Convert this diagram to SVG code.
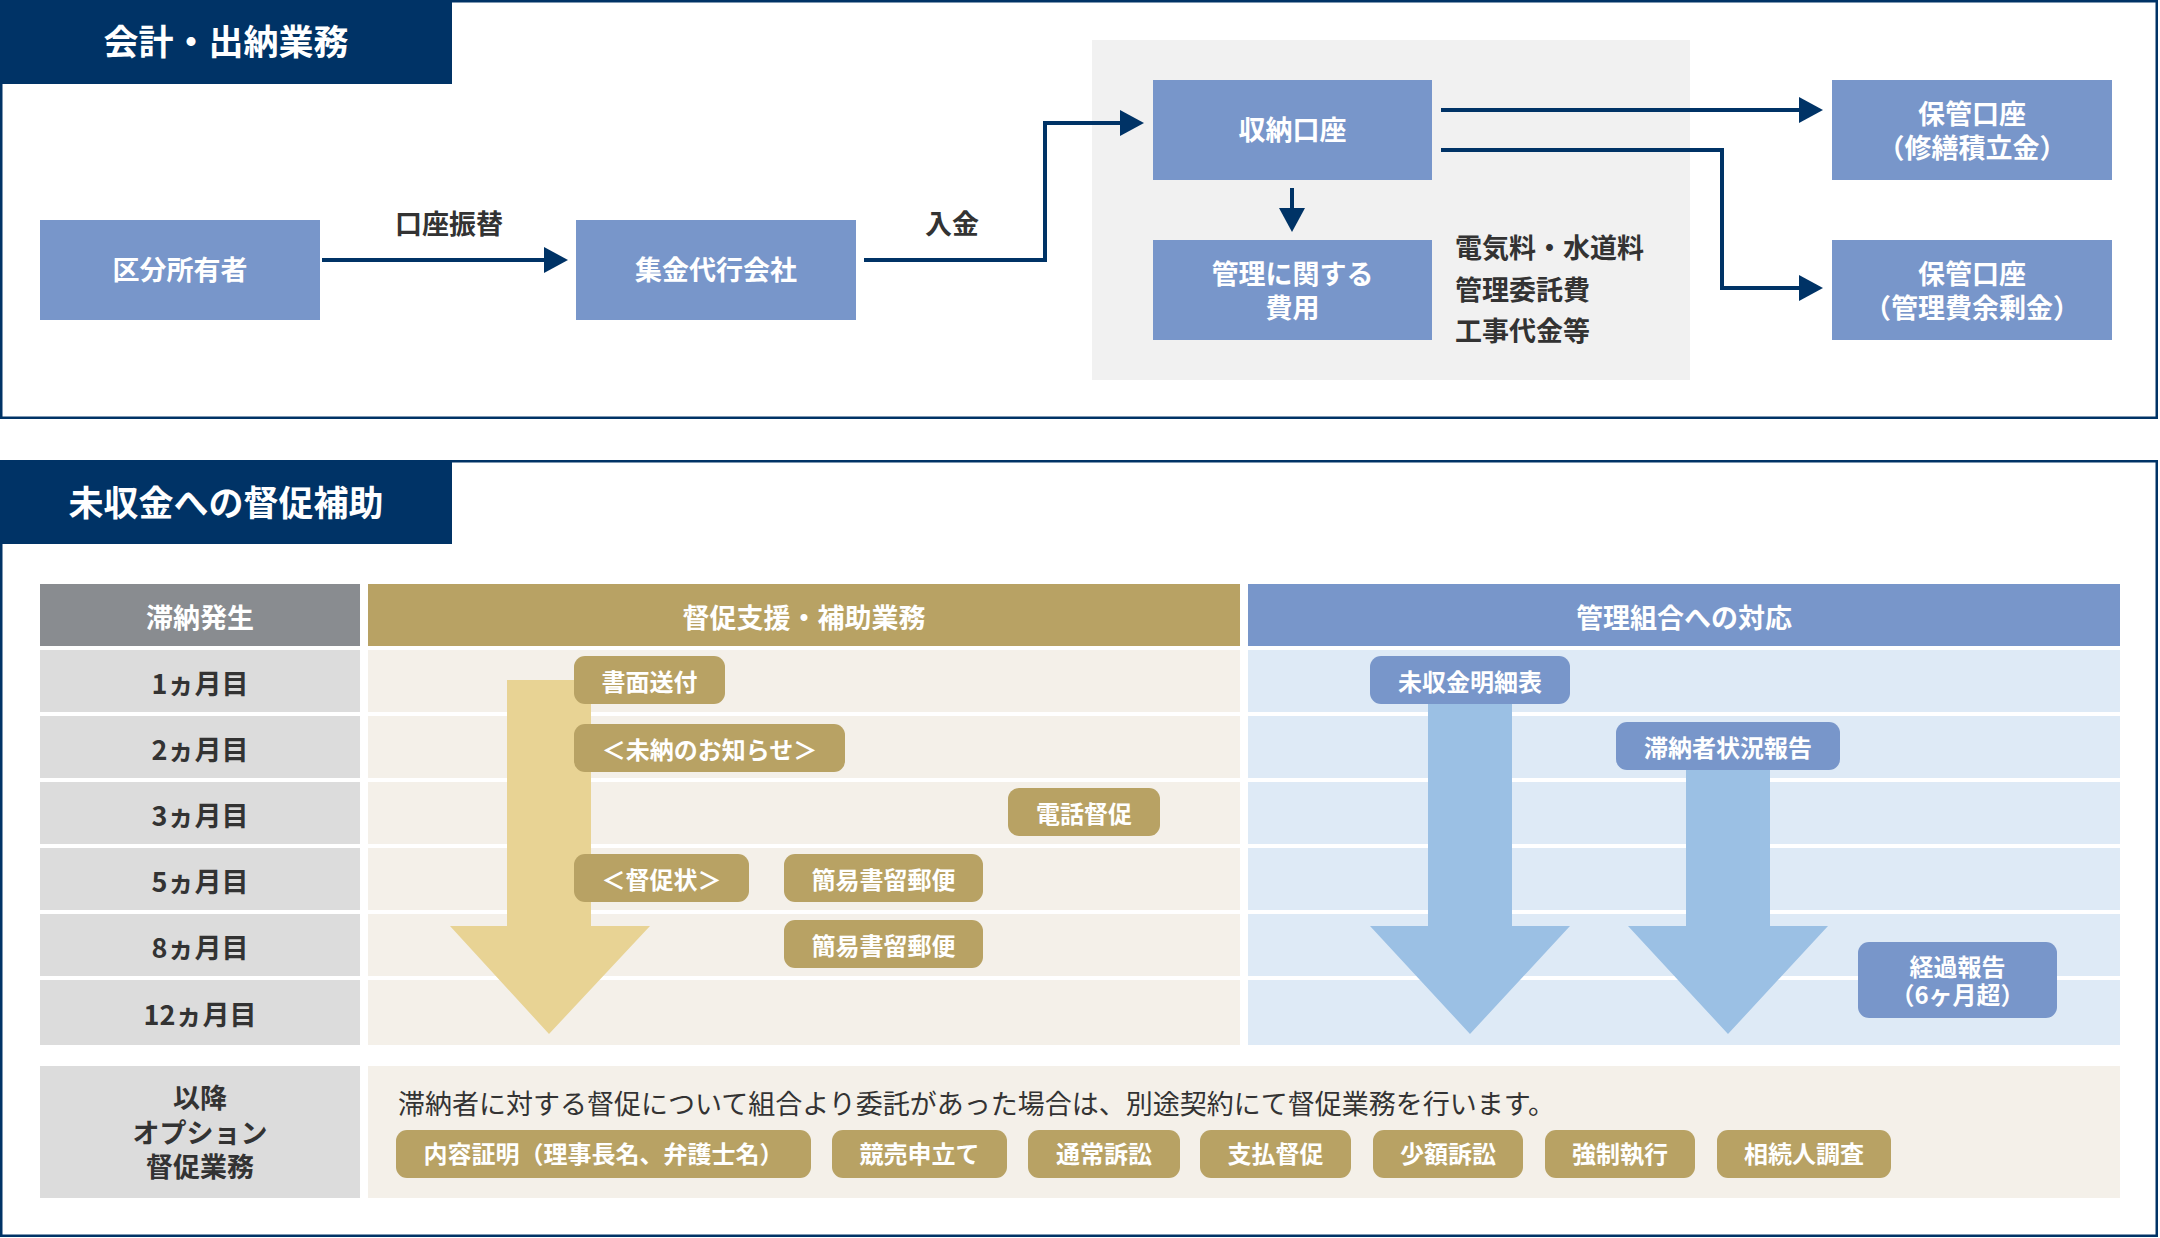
<svg xmlns="http://www.w3.org/2000/svg" width="2160" height="1238" viewBox="0 0 2160 1238">
<style>
text{font-family:"Noto Sans CJK JP","Noto Sans",sans-serif;}
.navy{fill:#003366;}
.box{fill:#7896ca;}
.title{fill:#fff;font-size:35px;font-weight:700;text-anchor:middle;}
.wt{fill:#fff;font-size:27px;font-weight:700;text-anchor:middle;}
.dt{fill:#333;font-size:27px;font-weight:700;}
.mid{text-anchor:middle;}
.conn{fill:none;stroke:#003366;stroke-width:4;}
.gold{fill:#b8a264;}
.bpill{fill:#7896ca;}
.pt{fill:#fff;font-size:24px;font-weight:700;text-anchor:middle;}
.c1{fill:#dcdcdc;}
.c2{fill:#f4f0e9;}
.c3{fill:#deeaf6;}
.frame{fill:none;stroke:#003366;stroke-width:2.5;}
</style>
<defs>
<marker id="ah" viewBox="0 0 24 26" refX="14" refY="13" markerWidth="24" markerHeight="26" markerUnits="userSpaceOnUse" orient="auto">
<path d="M0,0 L24,13 L0,26 z" fill="#003366"/>
</marker>
</defs>

<!-- Section 1 -->
<g id="section1">
<rect class="frame" x="1.25" y="1.25" width="2155.5" height="416.5"/>
<rect class="navy" x="0" y="0" width="452" height="84"/>
<text class="title" x="226" y="55">会計・出納業務</text>
<rect x="1092" y="40" width="598" height="340" fill="#f1f1f1"/>
</g>

<g id="n-owner">
<rect class="box" x="40" y="220" width="280" height="100"/>
<text class="wt" x="180" y="280">区分所有者</text>
</g>
<g id="n-agency">
<rect class="box" x="576" y="220" width="280" height="100"/>
<text class="wt" x="716" y="280">集金代行会社</text>
</g>
<g id="n-collect">
<rect class="box" x="1153" y="80" width="279" height="100"/>
<text class="wt" x="1292.5" y="140">収納口座</text>
</g>
<g id="n-cost">
<rect class="box" x="1153" y="240" width="279" height="100"/>
<text class="wt" x="1292.5" y="284">管理に関する<tspan x="1292.5" dy="34">費用</tspan></text>
</g>
<g id="n-costlist">
<text class="dt" x="1455" y="258">電気料・水道料<tspan x="1455" dy="42">管理委託費</tspan><tspan x="1455" dy="41">工事代金等</tspan></text>
</g>
<g id="n-reserve">
<rect class="box" x="1832" y="80" width="280" height="100"/>
<text class="wt" x="1972" y="124">保管口座<tspan x="1972" dy="34">（修繕積立金）</tspan></text>
</g>
<g id="n-surplus">
<rect class="box" x="1832" y="240" width="280" height="100"/>
<text class="wt" x="1972" y="284">保管口座<tspan x="1972" dy="34">（管理費余剰金）</tspan></text>
</g>

<g id="connectors">
<path class="conn" d="M322,260 H558" marker-end="url(#ah)"/>
<path class="conn" d="M864,260 H1045 V123 H1134" marker-end="url(#ah)"/>
<path class="conn" d="M1292,188 V222" marker-end="url(#ah)"/>
<path class="conn" d="M1441,110 H1813" marker-end="url(#ah)"/>
<path class="conn" d="M1441,150 H1722 V288 H1813" marker-end="url(#ah)"/>
<text class="dt mid" x="449" y="234">口座振替</text>
<text class="dt mid" x="952" y="234">入金</text>
</g>

<!-- Section 2 -->
<g id="section2">
<rect class="frame" x="1.25" y="461.25" width="2155.5" height="774.5"/>
<rect class="navy" x="0" y="460" width="452" height="84"/>
<text class="title" x="226" y="516">未収金への督促補助</text>
</g>

<g id="table-headers">
<rect x="40" y="584" width="320" height="62" fill="#898c90"/>
<text class="wt" x="200" y="628">滞納発生</text>
<rect x="368" y="584" width="872" height="62" fill="#b8a264"/>
<text class="wt" x="804" y="628">督促支援・補助業務</text>
<rect x="1248" y="584" width="872" height="62" fill="#7896ca"/>
<text class="wt" x="1684" y="628">管理組合への対応</text>
</g>

<g id="table-rows">
<rect class="c1" x="40" y="650" width="320" height="62"/><rect class="c2" x="368" y="650" width="872" height="62"/><rect class="c3" x="1248" y="650" width="872" height="62"/>
<rect class="c1" x="40" y="716" width="320" height="62"/><rect class="c2" x="368" y="716" width="872" height="62"/><rect class="c3" x="1248" y="716" width="872" height="62"/>
<rect class="c1" x="40" y="782" width="320" height="62"/><rect class="c2" x="368" y="782" width="872" height="62"/><rect class="c3" x="1248" y="782" width="872" height="62"/>
<rect class="c1" x="40" y="848" width="320" height="62"/><rect class="c2" x="368" y="848" width="872" height="62"/><rect class="c3" x="1248" y="848" width="872" height="62"/>
<rect class="c1" x="40" y="914" width="320" height="62"/><rect class="c2" x="368" y="914" width="872" height="62"/><rect class="c3" x="1248" y="914" width="872" height="62"/>
<rect class="c1" x="40" y="980" width="320" height="65"/><rect class="c2" x="368" y="980" width="872" height="65"/><rect class="c3" x="1248" y="980" width="872" height="65"/>
<text class="dt mid" x="200" y="694">1ヵ月目</text>
<text class="dt mid" x="200" y="760">2ヵ月目</text>
<text class="dt mid" x="200" y="826">3ヵ月目</text>
<text class="dt mid" x="200" y="892">5ヵ月目</text>
<text class="dt mid" x="200" y="958">8ヵ月目</text>
<text class="dt mid" x="200" y="1025">12ヵ月目</text>
</g>

<g id="flow-arrows">
<polygon points="507,680 591,680 591,926 650,926 549,1034 450,926 507,926" fill="#e8d394"/>
<polygon points="1428,700 1512,700 1512,926 1570,926 1470,1034 1370,926 1428,926" fill="#9bc0e4"/>
<polygon points="1686,766 1770,766 1770,926 1828,926 1728,1034 1628,926 1686,926" fill="#9bc0e4"/>
</g>

<g id="p-shomen"><rect class="gold" x="574" y="656" width="151" height="48" rx="11"/><text class="pt" x="649.5" y="691">書面送付</text></g>
<g id="p-oshirase"><rect class="gold" x="574" y="724" width="271" height="48" rx="11"/><text class="pt" x="709.5" y="759">＜未納のお知らせ＞</text></g>
<g id="p-denwa"><rect class="gold" x="1008" y="788" width="152" height="48" rx="11"/><text class="pt" x="1084" y="823">電話督促</text></g>
<g id="p-tokusoku"><rect class="gold" x="574" y="854" width="175" height="48" rx="11"/><text class="pt" x="661.5" y="889">＜督促状＞</text></g>
<g id="p-kan1"><rect class="gold" x="784" y="854" width="199" height="48" rx="11"/><text class="pt" x="883.5" y="889">簡易書留郵便</text></g>
<g id="p-kan2"><rect class="gold" x="784" y="920" width="199" height="48" rx="11"/><text class="pt" x="883.5" y="955">簡易書留郵便</text></g>

<g id="p-meisai"><rect class="bpill" x="1370" y="656" width="200" height="48" rx="11"/><text class="pt" x="1470" y="691">未収金明細表</text></g>
<g id="p-jokyo"><rect class="bpill" x="1616" y="722" width="224" height="48" rx="11"/><text class="pt" x="1728" y="757">滞納者状況報告</text></g>
<g id="p-keika"><rect class="bpill" x="1858" y="942" width="199" height="76" rx="11"/><text class="pt" x="1957.5" y="976">経過報告<tspan x="1957.5" dy="28">（6ヶ月超）</tspan></text></g>

<g id="option-row">
<rect class="c1" x="40" y="1066" width="320" height="132"/>
<rect class="c2" x="368" y="1066" width="1752" height="132"/>
<text class="dt mid" x="200" y="1108">以降<tspan x="200" dy="35">オプション</tspan><tspan x="200" dy="34">督促業務</tspan></text>
<text x="398" y="1114" fill="#333" font-size="27">滞納者に対する督促について組合より委託があった場合は、別途契約にて督促業務を行います。</text>
</g>
<g id="o1"><rect class="gold" x="396" y="1130" width="415" height="48" rx="11"/><text class="pt" x="603.5" y="1163">内容証明（理事長名、弁護士名）</text></g>
<g id="o2"><rect class="gold" x="832" y="1130" width="175" height="48" rx="11"/><text class="pt" x="919.5" y="1163">競売申立て</text></g>
<g id="o3"><rect class="gold" x="1028" y="1130" width="152" height="48" rx="11"/><text class="pt" x="1104" y="1163">通常訴訟</text></g>
<g id="o4"><rect class="gold" x="1200" y="1130" width="151" height="48" rx="11"/><text class="pt" x="1275.5" y="1163">支払督促</text></g>
<g id="o5"><rect class="gold" x="1373" y="1130" width="150" height="48" rx="11"/><text class="pt" x="1448" y="1163">少額訴訟</text></g>
<g id="o6"><rect class="gold" x="1545" y="1130" width="150" height="48" rx="11"/><text class="pt" x="1620" y="1163">強制執行</text></g>
<g id="o7"><rect class="gold" x="1717" y="1130" width="174" height="48" rx="11"/><text class="pt" x="1804" y="1163">相続人調査</text></g>
</svg>
